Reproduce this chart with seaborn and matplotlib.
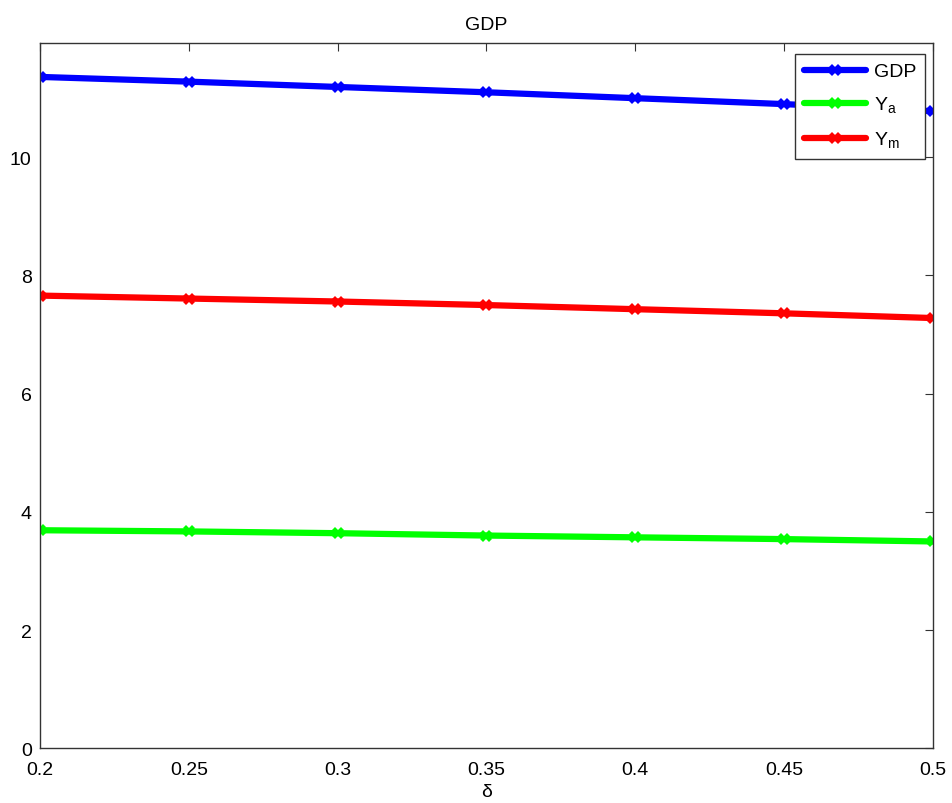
import pandas as pd
import seaborn as sns
from matplotlib import pyplot as plt

delta = [0.2, 0.25, 0.3, 0.35, 0.4, 0.45, 0.5]
gdp = [11.36, 11.28, 11.19, 11.10, 11.00, 10.90, 10.78]
y_a = [3.69, 3.67, 3.64, 3.60, 3.57, 3.54, 3.50]
y_m = [7.66, 7.61, 7.56, 7.50, 7.43, 7.36, 7.28]

names = ['GDP', r'Y$_\mathregular{a}$', r'Y$_\mathregular{m}$']
df = pd.DataFrame({'delta': delta * 3,
                   'value': gdp + y_a + y_m,
                   'series': [names[0]] * 7 + [names[1]] * 7 + [names[2]] * 7})

sns.set_style('white')
plt.rcParams['font.family'] = ['Liberation Sans', 'DejaVu Sans']
plt.rcParams['mathtext.fontset'] = 'custom'
plt.rcParams['mathtext.rm'] = 'Liberation Sans'
plt.rcParams['text.color'] = 'black'
plt.rcParams['xtick.color'] = 'black'
plt.rcParams['ytick.color'] = 'black'

fig = plt.figure(figsize=(9.52, 8.04), dpi=100)
ax = fig.add_axes([0.042, 0.068, 0.938, 0.877])
sns.lineplot(data=df, x='delta', y='value', hue='series', ax=ax,
             palette=['#0000ff', '#00ff00', '#ff0000'],
             linewidth=4.5, marker='X', markersize=9, markeredgewidth=0)

ax.set_xlim(0.2, 0.5)
ax.set_ylim(0, 11.93)
ax.set_xticks(delta)
ax.set_xticklabels(['0.2', '0.25', '0.3', '0.35', '0.4', '0.45', '0.5'])
ax.set_yticks([0, 2, 4, 6, 8, 10])
ax.tick_params(direction='in', length=6, labelsize=14, top=True, right=True,
               color='#333333', labelcolor='black')
ax.tick_params(axis='x', pad=9)
ax.tick_params(axis='y', pad=6)
for s in ax.spines.values():
    s.set_color('#333333')
    s.set_linewidth(1)
ax.set_title('GDP', fontsize=14, pad=10, color='black')
ax.set_xlabel('δ', fontsize=14, labelpad=4, color='black')
ax.set_ylabel('')

leg = ax.legend(loc='upper right', bbox_to_anchor=(925 / 952, 1 - 55 / 804),
                bbox_transform=fig.transFigure, borderaxespad=0, fontsize=14,
                frameon=True, fancybox=False, framealpha=1, edgecolor='#333333',
                handlelength=3.2, borderpad=0.45, labelspacing=0.75,
                handletextpad=0.4, labelcolor='black')
leg.get_frame().set_linewidth(1)

fig.savefig('out.png', dpi=100)
